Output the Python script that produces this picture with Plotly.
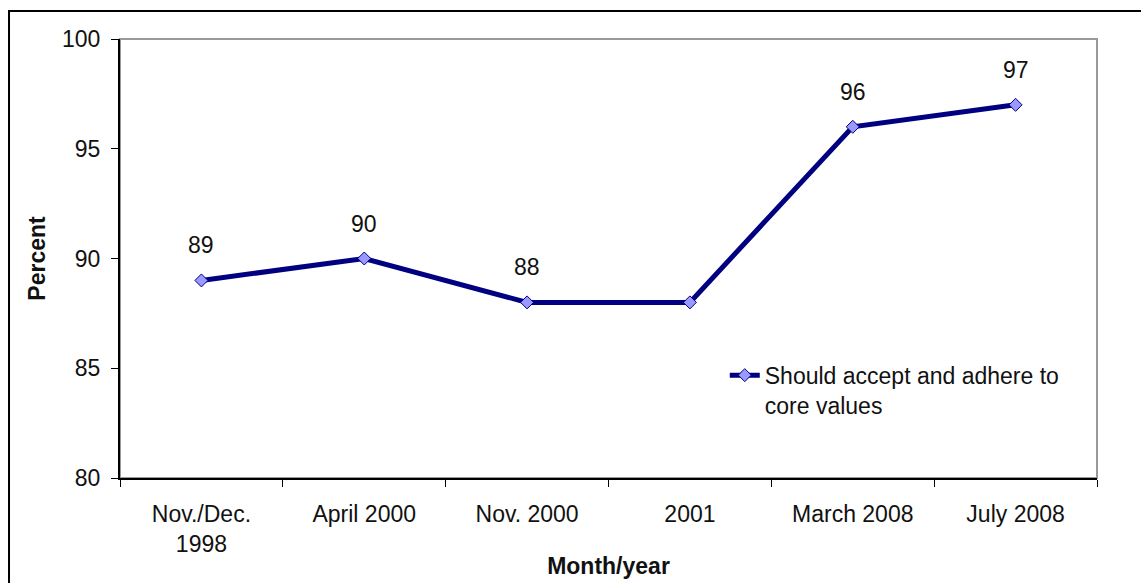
import plotly.graph_objects as go

# Survey periods and share of respondents (percent)
periods = ["Nov./Dec.<br>1998", "April 2000", "Nov. 2000", "2001", "March 2008", "July 2008"]
percent = [89, 90, 88, 88, 96, 97]
series_name = "Should accept and adhere to<br>core values"
y_ticks = [80, 85, 90, 95, 100]

FONT = "Liberation Sans, Arial, sans-serif"
NAVY = "#000080"
TXT = "#111111"

fig = go.Figure()
fig.add_trace(go.Scatter(
    x=periods, y=percent, name=series_name,
    mode="lines+markers",
    line=dict(color=NAVY, width=5),
    marker=dict(symbol="diamond", size=10, color="#9999ff",
                line=dict(color=NAVY, width=1)),
    showlegend=True,
))

for p, v in zip(periods, percent):
    fig.add_annotation(x=p, y=v, text=str(v), showarrow=False,
                       yshift=35, font=dict(family=FONT, size=23, color=TXT))

# plot-area frame (grey) and outer chart frame (black)
fig.add_shape(type="rect", xref="paper", yref="paper", x0=0, y0=0, x1=1, y1=1,
              line=dict(color="#999999", width=2), layer="below")
fig.add_shape(type="rect", xref="paper", yref="paper",
              x0=-0.1136, y0=-0.3, x1=1.1, y1=1.0638,
              line=dict(color="black", width=2), layer="below")

fig.update_layout(
    width=1141, height=583,
    margin=dict(l=120, r=44, t=39, b=105),
    paper_bgcolor="white", plot_bgcolor="white",
    font=dict(family=FONT, size=23, color=TXT),
    legend=dict(x=0.619, y=0.2, xanchor="left", yanchor="middle",
                bgcolor="rgba(0,0,0,0)", valign="top",
                font=dict(family=FONT, size=23, color=TXT),
                itemwidth=30),
    xaxis=dict(
        type="category", range=[-0.5, 5.5], automargin=False,
        tickson="boundaries", ticks="outside", ticklen=7, tickcolor="black",
        showline=True, linecolor="black", linewidth=2, showgrid=False,
        ticklabelstandoff=14,
        tickfont=dict(family=FONT, size=23, color=TXT),
        title=dict(text="<b>Month/year</b>", standoff=2,
                   font=dict(family=FONT, size=23, color=TXT)),
    ),
    yaxis=dict(
        range=[80, 100], tickvals=y_ticks, automargin=False,
        ticks="outside", ticklen=7, tickcolor="black",
        showline=True, linecolor="black", linewidth=2, showgrid=False,
        zeroline=False, ticklabelstandoff=6,
        tickfont=dict(family=FONT, size=23, color=TXT),
        title=dict(text="<b>Percent</b>", standoff=10,
                   font=dict(family=FONT, size=23, color=TXT)),
    ),
)

fig.write_html("out.html")
